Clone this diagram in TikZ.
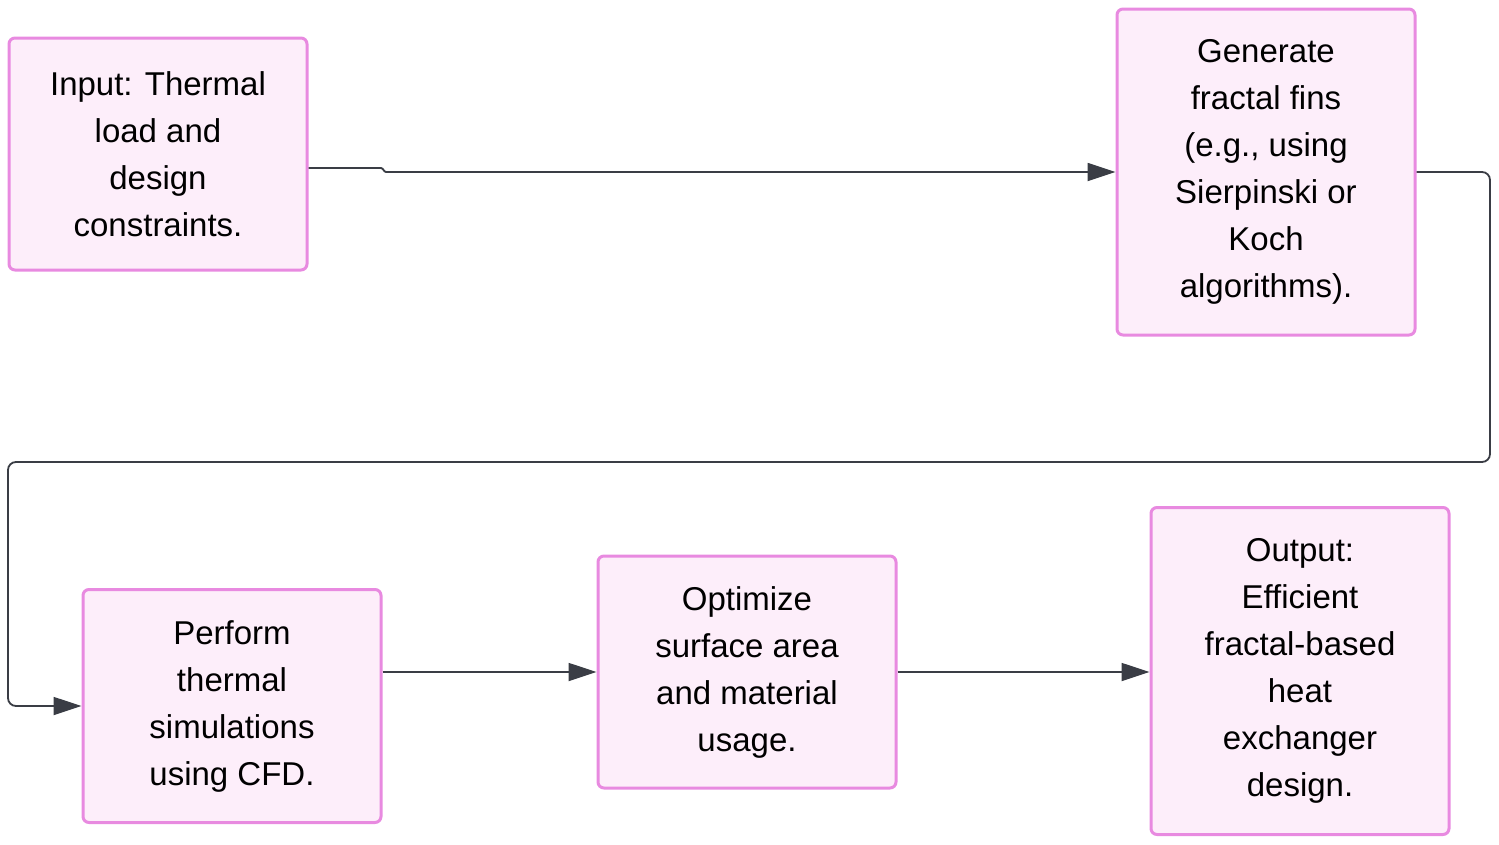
\documentclass[tikz,border=0pt]{standalone}
\usepackage{fontspec}
\setmainfont{Liberation Sans}
\usetikzlibrary{arrows.meta}
\definecolor{boxfill}{HTML}{FDEEFA}
\definecolor{boxdraw}{HTML}{E88AE0}
\definecolor{linec}{HTML}{3A3D45}
\begin{document}
\begin{tikzpicture}[x=1pt,y=-1pt,
  box/.style={draw=boxdraw,fill=boxfill,line width=3pt,rounded corners=6pt,minimum width=298pt,align=center,font=\fontsize{33}{47}\selectfont,inner sep=0pt},
  conn/.style={draw=linec,line width=1.8pt,-{Triangle[length=28pt,width=18pt,fill=linec]},rounded corners=8pt}]
\useasboundingbox (0,0) rectangle (1499,844);
\node[box,minimum height=232pt] (A) at (158,154) {Input: Thermal\\load and\\design\\constraints.};
\node[box,minimum height=326pt] (B) at (1266,172) {Generate\\fractal fins\\(e.g., using\\Sierpinski or\\Koch\\algorithms).};
\node[box,minimum height=233pt] (C) at (232,706) {Perform\\thermal\\simulations\\using CFD.};
\node[box,minimum height=232pt] (D) at (747,672) {Optimize\\surface area\\and material\\usage.};
\node[box,minimum height=327pt] (E) at (1300,671) {Output:\\Efficient\\fractal-based\\heat\\exchanger\\design.};
\draw[conn,rounded corners=1pt] (A.east|-0,168) -- (382,168) -- (385,172) -- (B.west|-0,172);
\draw[conn] (B.east|-0,172) -- (1490,172) -- (1490,462) -- (8,462) -- (8,706) -- (C.west|-0,706);
\draw[conn] (C.east|-0,672) -- (D.west|-0,672);
\draw[conn] (D.east|-0,672) -- (E.west|-0,672);
\end{tikzpicture}
\end{document}
